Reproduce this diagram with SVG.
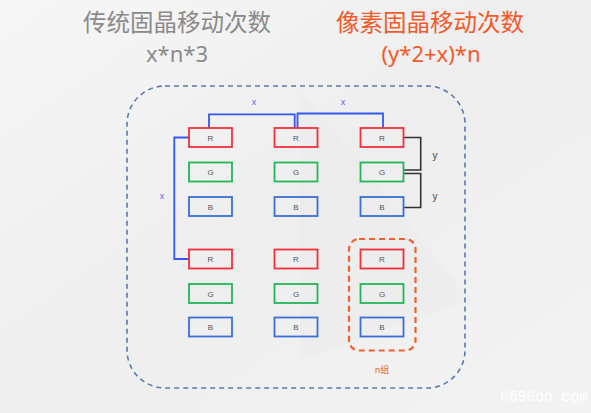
<svg xmlns="http://www.w3.org/2000/svg" width="591" height="413" viewBox="0 0 591 413">
<defs>
<linearGradient id="bg" x1="0" y1="0" x2="1" y2="1">
<stop offset="0" stop-color="#f6f6f6"/>
<stop offset="0.5" stop-color="#eeeeee"/>
<stop offset="1" stop-color="#f3f3f3"/>
</linearGradient>
</defs>
<style>
.title{font-family:"Noto Sans CJK SC","Noto Sans",sans-serif;font-size:23.5px;text-anchor:middle}
.formula{font-family:"Noto Sans","Liberation Sans",sans-serif;font-size:22px;text-anchor:middle}
.box{fill:none;stroke-width:1.8}
.r{stroke:#f42f3a}
.g{stroke:#22b657}
.b{stroke:#3a6fd8}
.lbl{font-family:"Liberation Sans","Noto Sans",sans-serif;font-size:8px;fill:#555;text-anchor:middle}
.blue{fill:none;stroke:#3358ee;stroke-width:1.8}
.blk{fill:none;stroke:#333;stroke-width:1.6}
.xl{font-family:"Liberation Sans",sans-serif;font-size:9px;fill:#6b5cf0;text-anchor:middle}
.yl{font-family:"Liberation Sans",sans-serif;font-size:10px;fill:#444;text-anchor:middle}
</style>
<rect width="591" height="413" fill="url(#bg)"/>
<polygon points="300,90 470,300 300,360" fill="#e9e9e9" opacity="0.3"/>

<g id="title-left">
<text class="title" x="177" y="31" fill="#8a8a8a">传统固晶移动次数</text>
<text class="formula" x="177" y="62" fill="#8a8a8a">x*n*3</text>
</g>
<g id="title-right">
<text class="title" x="430" y="31" fill="#f25a2a">像素固晶移动次数</text>
<text class="formula" x="431" y="62" fill="#f25a2a">(y*2+x)*n</text>
</g>

<g id="outer-frame">
<rect x="127" y="86" width="338" height="302" rx="38" fill="none" stroke="#5b79ac" stroke-width="1.6" stroke-dasharray="5 4"/>
</g>
<g id="group-frame">
<rect x="349" y="239" width="66.5" height="111.5" rx="10" fill="none" stroke="#f0602e" stroke-width="2.2" stroke-dasharray="6 4"/>
<text x="382" y="373" font-family="Noto Sans CJK SC,sans-serif" font-size="9" fill="#f0602e" text-anchor="middle">n组</text>
</g>

<g id="connectors">
<polyline class="blue" points="209,128 209,114.3 294.7,114.3 294.7,128"/>
<polyline class="blue" points="297.5,128 297.5,113.5 383,113.5 383,128"/>
<polyline class="blue" points="190,137.5 174.3,137.5 174.3,259 190,259"/>
<polyline class="blk" points="403.5,137.5 420.7,137.5 420.7,170 403.5,170"/>
<polyline class="blk" points="403.5,173.5 420.7,173.5 420.7,207.5 403.5,207.5"/>
<text class="xl" x="254" y="105">x</text>
<text class="xl" x="343" y="105">x</text>
<text class="xl" x="162" y="199">x</text>
<text class="yl" x="435" y="159">y</text>
<text class="yl" x="435" y="200">y</text>
</g>

<g id="c1-r1"><rect class="box r" x="189" y="128" width="43" height="19"/><text class="lbl" x="210.5" y="140.5">R</text></g>
<g id="c1-g1"><rect class="box g" x="189" y="162.5" width="43" height="19"/><text class="lbl" x="210.5" y="175">G</text></g>
<g id="c1-b1"><rect class="box b" x="189" y="197" width="43" height="19"/><text class="lbl" x="210.5" y="209.5">B</text></g>
<g id="c2-r1"><rect class="box r" x="274.5" y="128" width="43" height="19"/><text class="lbl" x="296" y="140.5">R</text></g>
<g id="c2-g1"><rect class="box g" x="274.5" y="162.5" width="43" height="19"/><text class="lbl" x="296" y="175">G</text></g>
<g id="c2-b1"><rect class="box b" x="274.5" y="197" width="43" height="19"/><text class="lbl" x="296" y="209.5">B</text></g>
<g id="c3-r1"><rect class="box r" x="360.5" y="128" width="43" height="19"/><text class="lbl" x="382" y="140.5">R</text></g>
<g id="c3-g1"><rect class="box g" x="360.5" y="162.5" width="43" height="19"/><text class="lbl" x="382" y="175">G</text></g>
<g id="c3-b1"><rect class="box b" x="360.5" y="197" width="43" height="19"/><text class="lbl" x="382" y="209.5">B</text></g>

<g id="c1-r2"><rect class="box r" x="189" y="249.5" width="43" height="19"/><text class="lbl" x="210.5" y="262">R</text></g>
<g id="c1-g2"><rect class="box g" x="189" y="284" width="43" height="19"/><text class="lbl" x="210.5" y="296.5">G</text></g>
<g id="c1-b2"><rect class="box b" x="189" y="317.5" width="43" height="19"/><text class="lbl" x="210.5" y="330">B</text></g>
<g id="c2-r2"><rect class="box r" x="274.5" y="249.5" width="43" height="19"/><text class="lbl" x="296" y="262">R</text></g>
<g id="c2-g2"><rect class="box g" x="274.5" y="284" width="43" height="19"/><text class="lbl" x="296" y="296.5">G</text></g>
<g id="c2-b2"><rect class="box b" x="274.5" y="317.5" width="43" height="19"/><text class="lbl" x="296" y="330">B</text></g>
<g id="c3-r2"><rect class="box r" x="360.5" y="249.5" width="43" height="19"/><text class="lbl" x="382" y="262">R</text></g>
<g id="c3-g2"><rect class="box g" x="360.5" y="284" width="43" height="19"/><text class="lbl" x="382" y="296.5">G</text></g>
<g id="c3-b2"><rect class="box b" x="360.5" y="317.5" width="43" height="19"/><text class="lbl" x="382" y="330">B</text></g>

<text x="544" y="401" font-family="Liberation Mono,monospace" font-size="14.7" fill="#ffffff" text-anchor="middle">6690oo.com</text>
</svg>
